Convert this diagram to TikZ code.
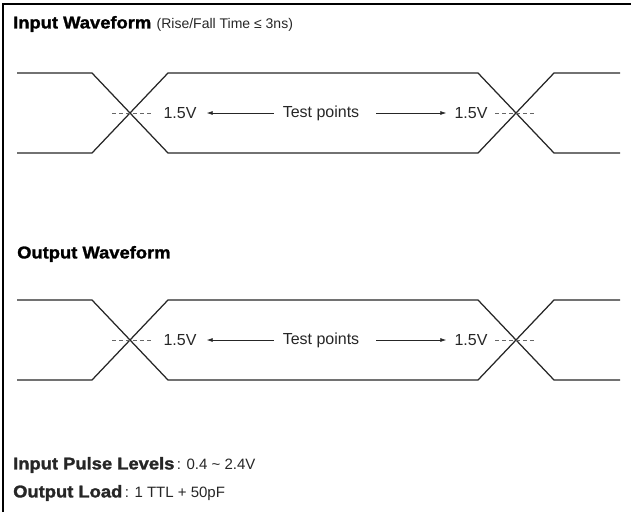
\documentclass[tikz,border=0pt]{standalone}
\usepackage{fontspec}
\setmainfont{Liberation Sans}
\newfontfamily\heavy[FakeStretch=1.08,BoldFeatures={FakeBold=1.6}]{Liberation Sans}
\usetikzlibrary{arrows.meta,positioning}
\newcommand{\hd}[1]{{\heavy\bfseries\fontsize{17}{20}\selectfont #1}}
\begin{document}
\begin{tikzpicture}[x=1pt, y=-1pt, wave/.style={draw=black!85,line width=1.25pt},
  level/.style={draw=black!60,line width=0.8pt,dash pattern=on 4pt off 3pt},
  tp/.style={-{Latex[length=6pt,width=4pt]},line width=0.7pt,draw=black!85},
  lbl/.style={inner sep=0pt,text=black!85,font=\fontsize{15}{18}\selectfont},
  vlbl/.style={lbl,font=\fontsize{16}{19}\selectfont}]%
\useasboundingbox (0,0) rectangle (631,512);
\draw[line width=2.5pt] (3,512) -- (3,4) -- (631,4);
\begin{scope}[every node/.style={inner sep=0pt,anchor=west}]
\node (inTitle) at (13,24) {\hd{Input Waveform}};
\node[lbl,anchor=base west,font=\fontsize{14}{17}\selectfont] (inNote) at ([xshift=5pt]inTitle.base east) {(Rise/Fall Time ≤ 3ns)};
\node (outTitle) at (17,254) {\hd{Output Waveform}};
\node[lbl] (levels) at (13,465) {\hd{Input Pulse Levels}\,: 0.4 \textasciitilde{} 2.4V};
\node[lbl] (load) at (13,493) {\hd{Output Load}\,: 1 TTL + 50pF};
\end{scope}
% input waveform
\draw[wave] (17,73) -- (92,73) -- (168,153) -- (478,153) -- (554,73) -- (620,73);
\draw[wave] (17,153) -- (92,153) -- (168,73) -- (478,73) -- (554,153) -- (620,153);
\draw[level] (112,113) -- (152,113);
\draw[level] (495,113) -- (536,113);
\node[vlbl] (inVa) at (180,113) {1.5V};
\node[vlbl] (inTP) at (321,113) {Test points};
\node[vlbl] (inVb) at (471,113) {1.5V};
\draw[tp,shorten <=9pt,shorten >=10pt] (inTP) -- (inVa);
\draw[tp,shorten <=17pt,shorten >=8pt] (inTP) -- (inVb);
% output waveform
\draw[wave] (17,300) -- (92,300) -- (168,380) -- (478,380) -- (554,300) -- (620,300);
\draw[wave] (17,380) -- (92,380) -- (168,300) -- (478,300) -- (554,380) -- (620,380);
\draw[level] (112,340) -- (152,340);
\draw[level] (495,340) -- (536,340);
\node[vlbl] (outVa) at (180,340) {1.5V};
\node[vlbl] (outTP) at (321,340) {Test points};
\node[vlbl] (outVb) at (471,340) {1.5V};
\draw[tp,shorten <=9pt,shorten >=10pt] (outTP) -- (outVa);
\draw[tp,shorten <=17pt,shorten >=8pt] (outTP) -- (outVb);
\end{tikzpicture}
\end{document}
